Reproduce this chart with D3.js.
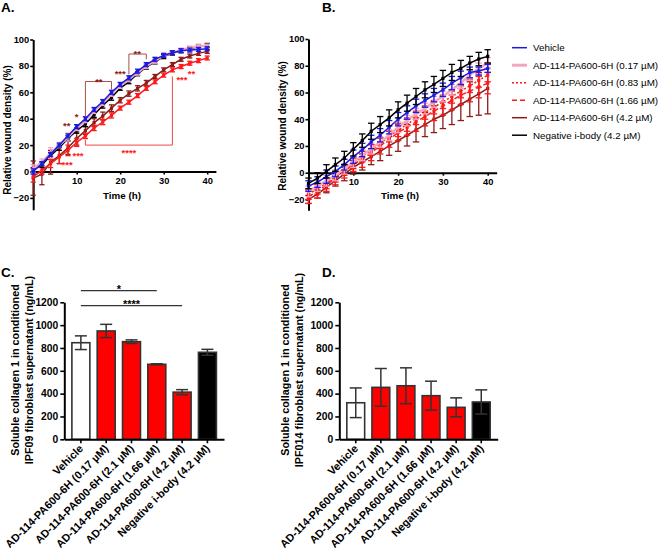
<!DOCTYPE html>
<html><head><meta charset="utf-8">
<script src="https://cdn.jsdelivr.net/npm/d3@7"></script>
<style>body{margin:0;background:#fff}svg{display:block}</style>
</head><body><svg id="c" width="660" height="550"></svg>
<script>
// ---------------- DATA ----------------
const timeHours = [0,2,4,6,8,10,12,14,16,18,20,22,24,26,28,30,32,34,36,38,40];
const timeTicks = [10,20,30,40];
const woundTicks = [-20,0,20,40,60,80,100];
const legendLabels = ["Vehicle","AD-114-PA600-6H (0.17 µM)","AD-114-PA600-6H (0.83 µM)","AD-114-PA600-6H (1.66 µM)","AD-114-PA600-6H (4.2 µM)","Negative i-body (4.2 µM)"];

// Panel A (IPF09 wound density)
const aVehicle    = [0,6,13,20,27,34,40,47,53,60,66,71,76,81,85,88,90,91.5,92,92.5,93];
const aVehicleErr = [2,1.5,1.5,1.5,1.5,1.5,1.5,1.5,1.5,1.5,1.5,1.5,1.5,1.5,1.5,1.5,1.5,1.5,1.5,1.5,1.5];
const aLow        = [2,7,14,20,26,33,39,46,52,59,65,70,75,80,84,88,90,92,93.5,95,95];
const aLowErr     = [3,2.5,4,2,3,2,2,2,2,2,2,2,2,2,2,1.5,1.5,1.5,1.5,1.5,1.5];
const aNegative   = [1,5,12,18,25,31,36,43,50,56,63,68,74,79,83,87,89.5,91.5,93,94.5,95.5];
const aNegativeErr= [2,2,2,2,2,2,2,2,2,2,1.5,1.5,1.5,1.5,1.5,1.5,1.5,1.5,1.5,1.5,1.5];
const aMid        = [-4,1,6,11,16,22,27,33,37.5,42.5,48,52.5,57.5,63,68,73,77,79.5,82,84,86];
const aMidErr     = [4,3,3,5,4,3,2,2,2,2,1.5,1.5,1.5,1.5,1.5,1.5,1.5,1.5,1.5,1.5,1.5];
const aHigh       = [-5,-2,7,12,18,25,31,37,42,48,54,59,63,67,72,77,81,85,87.5,89.5,91];
const aHighErr    = [13,8,9,6,5,5,3,3,3,2.5,2,2,2,2,1.5,1.5,1.5,1.5,1.5,1.5,1.5];

// Panel B (IPF014 wound density)
const bVehicle    = [-10,-7,-3,1,6,12,17,23,28,34,40,45,50,54,58,62,67,71,75,76,78];
const bVehicleErr = [4,4,5,4,4,5,5,5,5,5,5,5,5,5,5,5,5,5,4,3,3];
const bC017       = [-14,-10,-6,-2,3,8,13,18,23,28,34,39,44,48,53,57,62,67,73,78,82];
const bC017Err    = [4,4,4,4,4,4,4,4,4,4,4,4,4,4,4,4,4,4,4,4,4];
const bC083       = [-16,-12,-8,-3,2,7,12,17,22,27,32,36,41,45,49,53,57,61,65,69,73];
const bC083Err    = [4,4,4,4,4,4,4,4,4,4,5,5,5,5,5,5,5,5,5,5,5];
const bC166       = [-18,-14,-9,-4,1,6,10,15,20,25,30,34,38,42,46,50,54,58,61,64,67];
const bC166Err    = [5,5,5,5,5,5,6,6,6,6,6,6,7,7,7,7,7,7,8,8,8];
const bC42        = [-20,-16,-11,-6,-1,4,8,12,16,20,24,28,32,36,40,43,47,51,55,59,63];
const bC42Err     = [3,3,4,4,5,5,6,6,7,7,8,8,9,9,10,10,11,12,13,16,19];
const bNegative   = [-8,-4,1,6,11,17.5,24,31,36,41,47,52,57,62,66,70.5,75,78,82,85,87];
const bNegativeErr= [4,4,5,5,5,5,5,6,6,6,6,6,6,6,6,6,6,6,5,5,5];

// Panels C & D (soluble collagen 1)
const collagenCategories = ["Vehicle","AD-114-PA600-6H (0.17 µM)","AD-114-PA600-6H (2.1 µM)","AD-114-PA600-6H (1.66 µM)","AD-114-PA600-6H (4.2 µM)","Negative i-body (4.2 µM)"];
const collagenTicks = [0,200,400,600,800,1000,1200];
const ipf09Mean  = [846,949,855,657,413,762];
const ipf09Err   = [60,58,16,5,22,26];
const ipf014Mean = [320,455,469,382,280,327];
const ipf014Err  = [130,165,157,127,83,106];

// ---------------- STYLE ----------------
const FONT = '"Liberation Sans", Arial, Helvetica, sans-serif';
const BLUE = "#1a1ae6", PINK = "#f4a6bd", RED = "#ff1a1a", MAROON = "#8c1c1c", BLACK = "#000";
const barFill = ["#ffffff", "#ff0000", "#ff0000", "#ff0000", "#ff0000", "#000000"];

const svg = d3.select("#c");
svg.append("rect").attr("width",660).attr("height",550).attr("fill","#fff");

function styleAxis(g, fs){
  g.attr("font-family", FONT).attr("font-size", fs).attr("font-weight","bold");
  g.select(".domain").attr("stroke","#000").attr("stroke-width",2);
  g.selectAll(".tick line").attr("stroke","#000").attr("stroke-width",1.6);
  g.selectAll(".tick text").attr("fill","#000");
}

function linePanel(x, y, series, capHalf){
  const g = svg.append("g");
  const ax = g.append("g").attr("transform",`translate(0,${y(0)})`)
    .call(d3.axisBottom(x).tickValues(timeTicks).tickSize(3).tickPadding(3).tickSizeOuter(0));
  styleAxis(ax, 9.3);
  const ay = g.append("g").attr("transform",`translate(${x(0)},0)`)
    .call(d3.axisLeft(y).tickValues(woundTicks).tickSize(3).tickPadding(1).tickSizeOuter(0));
  styleAxis(ay, 9.3);
  const line = d3.line().x((d,i)=>x(timeHours[i])).y(d=>y(d));
  series.forEach(s=>{
    const sg = g.append("g");
    sg.append("path").datum(s.values).attr("d", line).attr("fill","none")
      .attr("stroke", s.color).attr("stroke-width", s.width).attr("stroke-dasharray", s.dash || null);
    s.values.forEach((v,i)=>{
      const e = s.err[i], cx = x(timeHours[i]);
      const ec = s.errColor || s.color;
      sg.append("line").attr("x1",cx).attr("x2",cx).attr("y1",y(v-e)).attr("y2",y(v+e))
        .attr("stroke",ec).attr("stroke-width",1.3);
      [v-e, v+e].forEach(b=>sg.append("line").attr("x1",cx-capHalf).attr("x2",cx+capHalf)
        .attr("y1",y(b)).attr("y2",y(b)).attr("stroke",ec).attr("stroke-width",1.3));
      sg.append("rect").attr("x",cx-1.6).attr("y",y(v)-1.6).attr("width",3.2).attr("height",3.2).attr("fill",s.color);
    });
  });
  return g;
}

// ---------------- PANEL A ----------------
const xA = d3.scaleLinear().domain([0,42]).range([33.2, 33.2+42*4.35]);
const yA = d3.scaleLinear().domain([-29,100]).range([171.5+29*1.32, 171.5-100*1.32]);
linePanel(xA, yA, [
  {values:aHigh, err:aHighErr, color:MAROON, width:1.5},
  {values:aMid, err:aMidErr, color:RED, width:1.5},
  {values:aNegative, err:aNegativeErr, color:BLACK, width:1.5},
  {values:aLow, err:aLowErr, color:PINK, width:2.5},
  {values:aVehicle, err:aVehicleErr, color:BLUE, width:1.5}
], 2.6);

svg.append("text").attr("x",122).attr("y",199).attr("text-anchor","middle")
  .attr("font-family",FONT).attr("font-size",9.8).attr("font-weight","bold").text("Time (h)");
svg.append("text").attr("transform","translate(10.5,130) rotate(-90)").attr("text-anchor","middle")
  .attr("font-family",FONT).attr("font-size",10).attr("font-weight","bold").text("Relative wound density (%)");

// significance annotations in panel A (data coordinates)
const maroonBrackets = [
  {t1:12, t2:18, yl:41.3, ytop:68.2, yr:62},
  {t1:22, t2:26, yl:73.5, ytop:89, yr:85}
];
const redBracket = {t1:12, t2:32, yl:24, ybot:20, yr:72};
const BR_M = "#a8504e", BR_R = "#f04848";
maroonBrackets.forEach(b=>{
  svg.append("path").attr("d",`M${xA(b.t1)},${yA(b.yl)}V${yA(b.ytop)}H${xA(b.t2)}V${yA(b.yr)}`)
    .attr("fill","none").attr("stroke",BR_M).attr("stroke-width",1);
});
svg.append("path").attr("d",`M${xA(redBracket.t1)},${yA(redBracket.yl)}V${yA(redBracket.ybot)}H${xA(redBracket.t2)}V${yA(redBracket.yr)}`)
  .attr("fill","none").attr("stroke",BR_R).attr("stroke-width",1);

const starsA = [
  {t:7.7, v:36, s:"**", c:MAROON},
  {t:10, v:42.8, s:"*", c:MAROON},
  {t:15.1, v:70, s:"**", c:MAROON},
  {t:20, v:76, s:"***", c:MAROON},
  {t:23.9, v:90.8, s:"**", c:MAROON},
  {t:10.3, v:13.8, s:"***", c:RED},
  {t:7.8, v:6.7, s:"***", c:RED},
  {t:22, v:15.5, s:"****", c:RED},
  {t:34.2, v:71, s:"***", c:RED},
  {t:36.4, v:75.8, s:"**", c:RED}
];
starsA.forEach(d=>svg.append("text").attr("x",xA(d.t)).attr("y",yA(d.v)+5.4)
  .attr("text-anchor","middle").attr("font-family",FONT).attr("font-size",9.5).attr("font-weight","bold")
  .attr("fill",d.c).text(d.s));

// ---------------- PANEL B ----------------
const xB = d3.scaleLinear().domain([0,42]).range([308.5, 308.5+42*4.48]);
const yB = d3.scaleLinear().domain([-28,100]).range([172.7+28*1.337, 172.7-100*1.337]);
const seriesB = [
  {values:bC42, err:bC42Err, color:MAROON, width:1.5, errColor:"#8c1c1c"},
  {values:bC166, err:bC166Err, color:RED, width:1.5, dash:"5,3"},
  {values:bC083, err:bC083Err, color:RED, width:1.5, dash:"2,2"},
  {values:bC017, err:bC017Err, color:PINK, width:2.5},
  {values:bVehicle, err:bVehicleErr, color:BLUE, width:1.5},
  {values:bNegative, err:bNegativeErr, color:BLACK, width:1.5}
];
linePanel(xB, yB, seriesB, 3.2);
svg.append("text").attr("x",400).attr("y",199).attr("text-anchor","middle")
  .attr("font-family",FONT).attr("font-size",9.8).attr("font-weight","bold").text("Time (h)");
svg.append("text").attr("transform","translate(286,126) rotate(-90)").attr("text-anchor","middle")
  .attr("font-family",FONT).attr("font-size",10).attr("font-weight","bold").text("Relative wound density (%)");

// legend
const legendStyles = [
  {color:BLUE, width:1.5},
  {color:PINK, width:3},
  {color:RED, width:1.5, dash:"2,2"},
  {color:RED, width:1.5, dash:"5,3"},
  {color:MAROON, width:1.5},
  {color:BLACK, width:1.5}
];
const lg = svg.append("g");
legendLabels.forEach((lab,i)=>{
  const yy = 47.7 + i*17.5, st = legendStyles[i];
  lg.append("line").attr("x1",512).attr("x2",527).attr("y1",yy).attr("y2",yy)
    .attr("stroke",st.color).attr("stroke-width",st.width).attr("stroke-dasharray",st.dash||null);
  lg.append("text").attr("x",533).attr("y",yy+3.5).attr("font-family",FONT).attr("font-size",9.8)
    .attr("fill","#000").text(lab);
});

// ---------------- PANELS C & D ----------------
function barPanel(x0, x1, means, errs, line1, line2, labelX){
  const x = d3.scaleBand().domain(collagenCategories).range([x0, x1]).paddingInner(0.29).paddingOuter(0.3);
  const y = d3.scaleLinear().domain([0,1200]).range([439.3, 302.3]);
  const g = svg.append("g");
  g.selectAll("rect.bar").data(means).join("rect").attr("class","bar")
    .attr("x",(d,i)=>x(collagenCategories[i])).attr("width",x.bandwidth())
    .attr("y",d=>y(d)).attr("height",d=>y(0)-y(d))
    .attr("fill",(d,i)=>barFill[i]).attr("stroke","#333").attr("stroke-width",1.6);
  means.forEach((m,i)=>{
    const cx = x(collagenCategories[i]) + x.bandwidth()/2, e = errs[i];
    g.append("line").attr("x1",cx).attr("x2",cx).attr("y1",y(m-e)).attr("y2",y(m+e)).attr("stroke","#333").attr("stroke-width",1.5);
    [m-e, m+e].forEach(b=>g.append("line").attr("x1",cx-6).attr("x2",cx+6).attr("y1",y(b)).attr("y2",y(b)).attr("stroke","#333").attr("stroke-width",1.5));
  });
  const ay = g.append("g").attr("transform",`translate(${x0},0)`)
    .call(d3.axisLeft(y).tickValues(collagenTicks).tickFormat(d3.format("d")).tickSize(4).tickPadding(2).tickSizeOuter(0));
  styleAxis(ay, 10.3);
  const ax = g.append("g").attr("transform",`translate(0,${y(0)})`)
    .call(d3.axisBottom(x).tickSize(4).tickSizeOuter(0));
  styleAxis(ax, 10.9);
  ax.selectAll(".tick text").attr("x",0).attr("y",0).attr("dy",0)
    .attr("transform","translate(3,10) rotate(-45)").attr("text-anchor","end");
  [line1, line2].forEach((t,k)=>{
    g.append("text").attr("transform",`translate(${labelX + k*14},370) rotate(-90)`).attr("text-anchor","middle")
      .attr("font-family",FONT).attr("font-size",10.8).attr("font-weight","bold").attr("fill","#000").text(t);
  });
  return {g, x, y};
}
const C = barPanel(64.3, 224, ipf09Mean, ipf09Err, "Soluble collagen 1 in conditioned", "IPF09 fibroblast supernatant (ng/mL)", 18.5);
barPanel(339.3, 497.7, ipf014Mean, ipf014Err, "Soluble collagen 1 in conditioned", "IPF014 fibroblast supernatant (ng/mL)", 288.5);

// significance in C
const sigC = [
  {from:0, to:3, yPx:290.7, s:"*"},
  {from:0, to:4, yPx:305.7, s:"****"}
];
sigC.forEach(d=>{
  const xa = C.x(collagenCategories[d.from]) + C.x.bandwidth()/2;
  const xb = C.x(collagenCategories[d.to]) + C.x.bandwidth()/2;
  svg.append("line").attr("x1",xa).attr("x2",xb).attr("y1",d.yPx).attr("y2",d.yPx).attr("stroke","#333").attr("stroke-width",1.3);
  svg.append("text").attr("x",(xa+xb)/2).attr("y",d.yPx+2).attr("text-anchor","middle")
    .attr("font-family",FONT).attr("font-size",11).attr("font-weight","bold").attr("fill","#000").text(d.s);
});

// panel letters
[["A.",1,12],["B.",322,12],["C.",1,277],["D.",322,277]].forEach(p=>
  svg.append("text").attr("x",p[1]).attr("y",p[2]).attr("font-family",FONT).attr("font-size",13.5).attr("font-weight","bold").text(p[0]));
</script></body></html>
